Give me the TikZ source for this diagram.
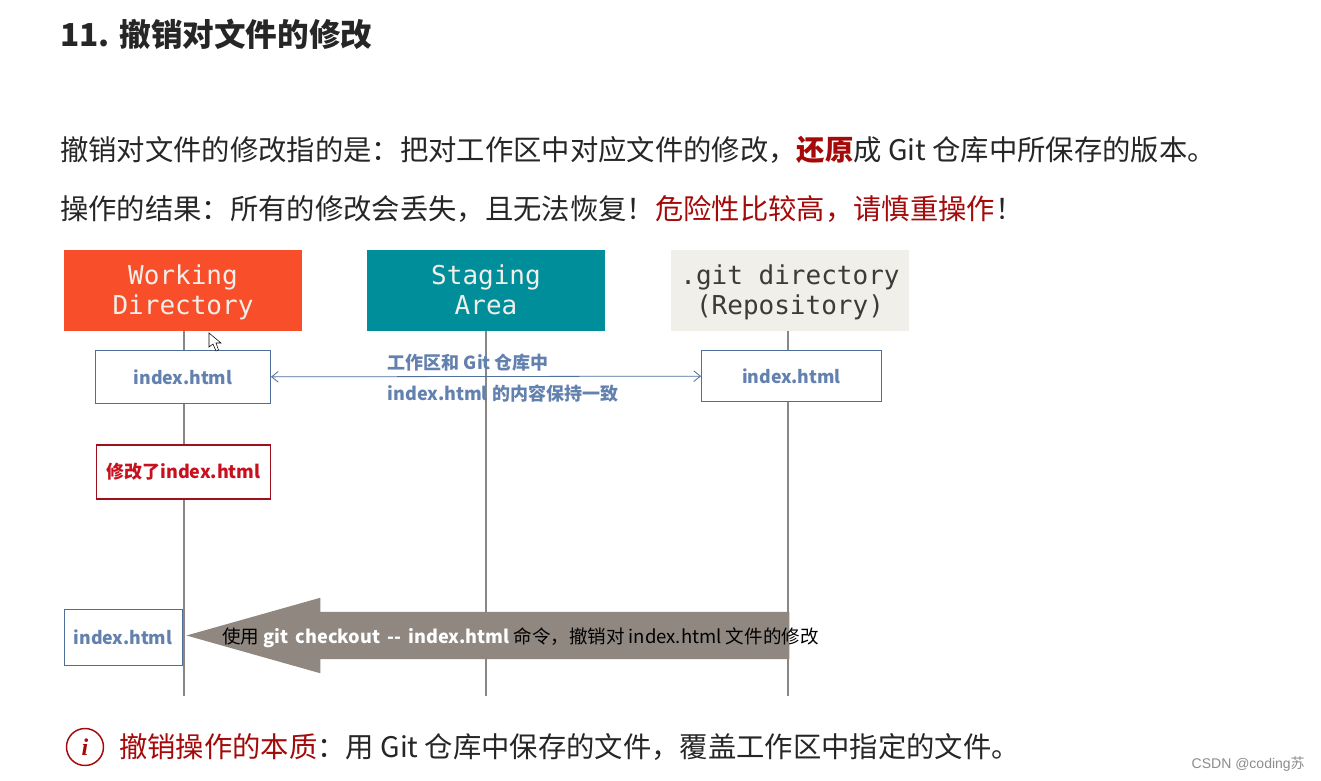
\documentclass[tikz,border=0pt]{standalone}
\usepackage{fontspec}
\setmainfont{Noto Sans CJK SC}
\newfontfamily\monofont{DejaVu Sans Mono}
\newfontfamily\markfont{Liberation Sans}
\newfontfamily\serifi{Liberation Serif}
\usetikzlibrary{shapes.arrows, arrows.meta}
\definecolor{GitOrange}{HTML}{F94E2A}
\definecolor{GitTeal}{HTML}{008E9B}
\definecolor{GitStone}{HTML}{F0EFE9}
\definecolor{GitInk}{HTML}{3E3A36}
\definecolor{LineGrey}{HTML}{8A8683}
\definecolor{ArrowGrey}{HTML}{8F8780}
\definecolor{FileBlue}{HTML}{4F6F9B}
\definecolor{FileText}{HTML}{6381AE}
\definecolor{EditRed}{HTML}{A00F1B}
\definecolor{EditText}{HTML}{C8101E}
\definecolor{WarnRed}{HTML}{A50A0A}
\definecolor{BodyInk}{HTML}{262626}
\newcommand{\areatop}{\rule{0pt}{20.3pt}}
\tikzset{
  areabox/.style={minimum width=238pt*0.75, minimum height=81pt*0.75, inner sep=0pt, align=center,
    font=\monofont\fontsize{19.5}{23}\selectfont},
  filebox/.style={draw=FileBlue, fill=white, line width=0.7pt, inner sep=0pt, text=FileText,
    font=\bfseries\fontsize{13.3}{16}\selectfont},
  editbox/.style={draw=EditRed, fill=white, line width=0.8pt, inner sep=0pt, text=EditText,
    font=\bfseries\fontsize{13.5}{17}\selectfont},
  lifeline/.style={LineGrey, line width=1.6pt},
  bodyline/.style={anchor=west, inner sep=0pt, text=BodyInk, font=\fontsize{21.25}{25}\selectfont},
  noteline/.style={anchor=west, inner sep=0pt, text=FileText, font=\bfseries\fontsize{13.5}{16}\selectfont},
}
\begin{document}
\begin{tikzpicture}[x=0.75pt, y=-0.75pt]
  \useasboundingbox[fill=white] (0,0) rectangle (1321,781);
  % heading and intro lines
  \node[anchor=west, inner sep=0pt, text=BodyInk, font=\bfseries\fontsize{23.7}{28}\selectfont] (heading) at (60,34) {11. 撤销对文件的修改};
  \node[bodyline] (intro) at (60,150) {撤销对文件的修改指的是：把对工作区中对应文件的修改，{\bfseries\color{WarnRed}还原}成 Git 仓库中所保存的版本。};
  \node[bodyline] (result) at (60,209) {操作的结果：所有的修改会丢失，且无法恢复！{\color{WarnRed}危险性比较高，请慎重操作}！};
  % the three areas
  \node[areabox, fill=GitOrange, text=GitStone] (working) at (183,290.5) {\areatop Working\strut\\Directory\strut};
  \node[areabox, fill=GitTeal, text=GitStone] (staging) at (486,290.5) {\areatop Staging\strut\\Area\strut};
  \node[areabox, fill=GitStone, text=GitInk] (repo) at (790,290.5) {\areatop .git directory\strut\\(Repository)\strut};
  \coordinate (workingend) at (184,696);
  \coordinate (stagingend) at (486,696);
  \coordinate (repoend) at (788,696);
  \draw[lifeline] (working.south -| workingend) -- (workingend);
  \draw[lifeline] (staging.south -| stagingend) -- (stagingend);
  \draw[lifeline] (repo.south -| repoend) -- (repoend);
  % files
  \node[filebox, minimum width=175pt*0.75, minimum height=53pt*0.75] (workfile) at (183,377) {index.html};
  \node[filebox, minimum width=180pt*0.75, minimum height=51pt*0.75] (repofile) at (791.5,376) {index.html\hspace{3pt}};
  \node[editbox, minimum width=174pt*0.75, minimum height=54pt*0.75] (editfile) at (183.5,472) {修改了index.html};
  \node[filebox, minimum width=118pt*0.75, minimum height=56pt*0.75] (backfile) at (123,637.5) {index.html};
  \draw[{Straight Barb[length=5pt,width=8pt]}-{Straight Barb[length=5pt,width=8pt]}, FileBlue, line width=0.6pt] (workfile) -- (repofile);
  \node[noteline] (sameup) at (387.5,363) {工作区和 Git 仓库中};
  \node[noteline] (samedown) at (387.5,394) {index.html 的内容保持一致};
  % checkout arrow
  \node[single arrow, fill=ArrowGrey, shape border rotate=180, inner xsep=0pt, inner ysep=17.6pt, minimum height=603pt*0.75,
    single arrow tip angle=31.5, single arrow head extend=14pt*0.75, single arrow head indent=0pt, anchor=tip] (checkout) at (185.5,635.5) {};
  \node[anchor=west, inner sep=0pt, font=\fontsize{13.9}{16}\selectfont] (cmd) at (222,637.5) {使用 {\bfseries\fontsize{13.6}{16}\selectfont\color{white}git\, checkout\, {-}{-}\, index.html} 命令，撤销对 index.html 文件的修改};
  % mouse pointer
  \draw[black, fill=white, line width=0.4pt] (209,333) -- (209,347) -- (213,344) -- (216,351) -- (218.5,350) -- (216,343) -- (221,343) -- cycle;
  % footer
  \node[circle, draw=WarnRed, line width=1.1pt, minimum size=37pt*0.75, inner sep=0pt, text=WarnRed,
    font=\serifi\bfseries\itshape\fontsize{18}{20}\selectfont] (info) at (85,747) {i};
  \node[bodyline] (essence) at (119,747) {{\color{WarnRed}撤销操作的本质}：用 Git 仓库中保存的文件，覆盖工作区中指定的文件。};
  \node[anchor=east, inner sep=0pt, text=black!45, font=\markfont\fontsize{10.5}{12}\selectfont] (mark) at (1305,764) {CSDN @coding{\fontspec{Noto Sans CJK SC}苏}};
\end{tikzpicture}
\end{document}
